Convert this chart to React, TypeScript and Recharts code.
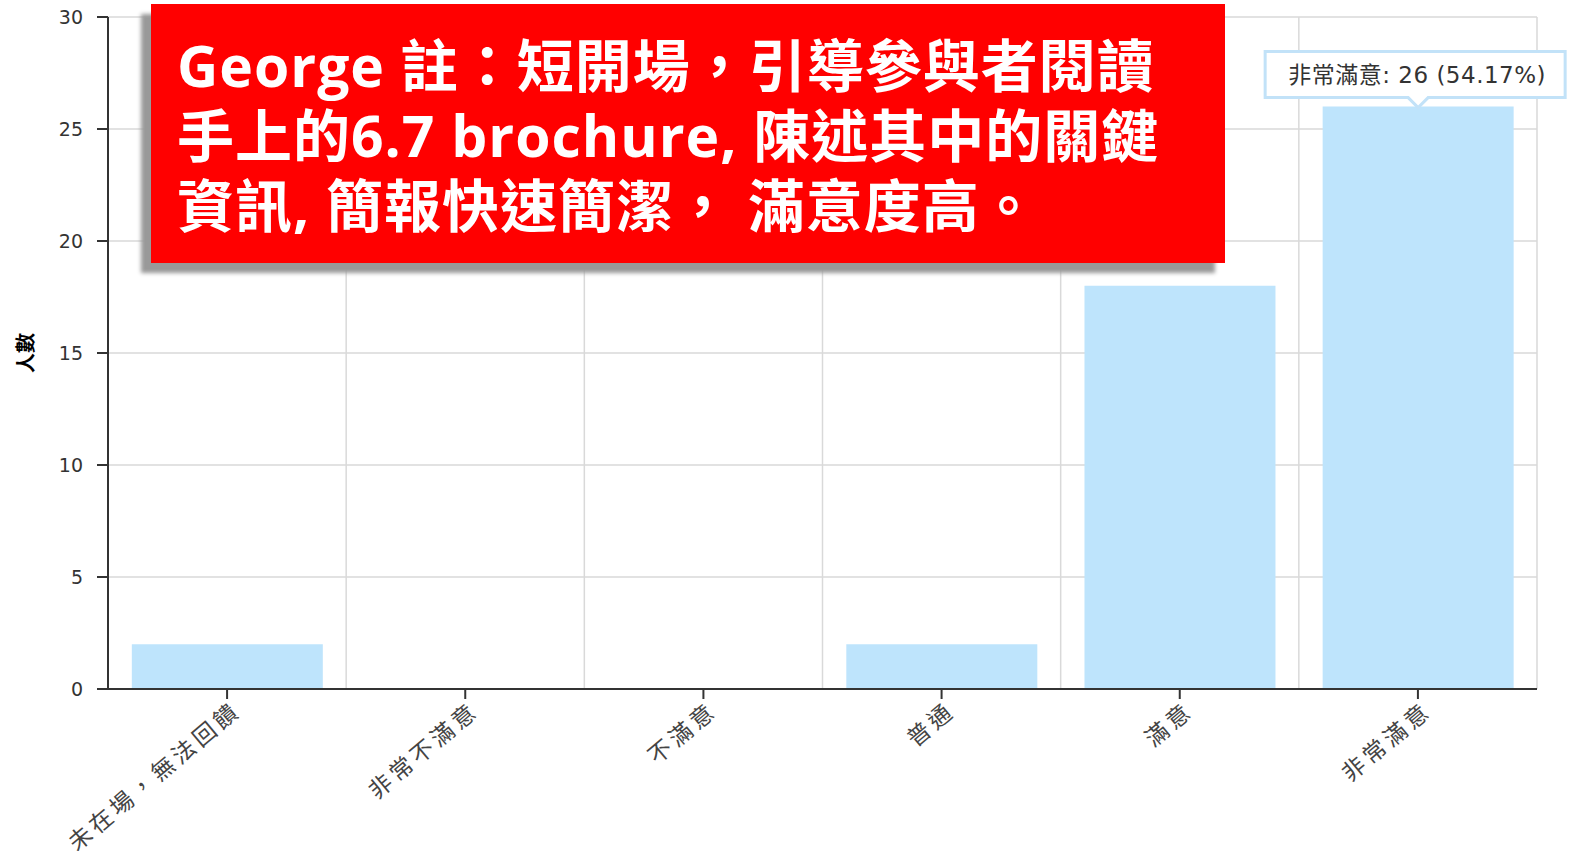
import { BarChart, Bar, XAxis, YAxis, CartesianGrid, Rectangle } from 'recharts';

// survey answers, left to right
const CATEGORIES = ['未在場，無法回饋', '非常不滿意', '不滿意', '普通', '滿意', '非常滿意'];
const COUNTS = [2, 0, 0, 2, 18, 26];
const Y_TICKS = [0, 5, 10, 15, 20, 25, 30];
const CALLOUT_INDEX = 5;

const NOTE_LINES = [
  'George 註：短開場，引導參與者閱讀',
  '手上的6.7 brochure, 陳述其中的關鍵',
  '資訊, 簡報快速簡潔， 滿意度高。',
];

const data = CATEGORIES.map((name, i) => ({ name, value: COUNTS[i] }));
const total = COUNTS.reduce((a, b) => a + b, 0);

const AXIS_FONT = '"DejaVu Sans", "Noto Sans CJK TC", sans-serif';

// rotated category label
function XTick({ x, y, payload }: any) {
  return (
    <g transform={`translate(${x + 10},${y + 6})`}>
      <text
        transform="rotate(-40)"
        textAnchor="end"
        dy="0.35em"
        fill="#444"
        fontSize={23}
        letterSpacing={4}
        fontFamily={AXIS_FONT}
      >
        {payload.value}
      </text>
    </g>
  );
}

// popup-style callout over the highlighted bar
function Callout({ x, width, y, index, value }: any) {
  const cx = x + width / 2;
  const tip = y + 1;
  const bottom = tip - 10;
  const top = bottom - 46;
  const left = cx - 153;
  const right = cx + 147;
  const pct = ((value / total) * 100).toFixed(2);
  return (
    <g>
      <path
        d={`M${left},${top} H${right} V${bottom} H${cx + 10} L${cx},${tip} L${cx - 10},${bottom} H${left} Z`}
        fill="#fff"
        stroke="#c2e2f8"
        strokeWidth={3}
      />
      <text
        x={cx - 1}
        y={(top + bottom) / 2}
        dy="0.35em"
        textAnchor="middle"
        fontSize={23}
        letterSpacing={0.5}
        fill="#333"
        fontFamily={AXIS_FONT}
      >
        {`${CATEGORIES[index]}: ${value} (${pct}%)`}
      </text>
    </g>
  );
}

function BarShape(props: any) {
  const { x, y, width, height, index, fill } = props;
  return (
    <g>
      <Rectangle x={x} y={y} width={width} height={height} fill={fill} />
      {index === CALLOUT_INDEX && (
        <Callout x={x} y={y} width={width} index={index} value={COUNTS[index]} />
      )}
    </g>
  );
}

function YLabel({ viewBox }: any) {
  const cx = viewBox.x + 26;
  const cy = viewBox.y + viewBox.height / 2;
  return (
    <text
      x={cx}
      y={cy}
      transform={`rotate(-90, ${cx}, ${cy})`}
      textAnchor="middle"
      dy="0.35em"
      fontSize={20}
      fontWeight="bold"
      fill="#000"
      fontFamily={AXIS_FONT}
    >
      人數
    </text>
  );
}

export default function App() {
  return (
    <div style={{ position: 'absolute', left: 0, top: 0, width: 1569, height: 854, background: '#fff' }}>
      <BarChart
        width={1569}
        height={854}
        data={data}
        margin={{ top: 17, right: 32, left: 0, bottom: 0 }}
        barCategoryGap="10%"
        style={{ overflow: 'visible' }}
      >
        <CartesianGrid
          stroke="#d9d9d9"
          strokeWidth={1.5}
          verticalCoordinatesGenerator={({ offset }: any) =>
            CATEGORIES.map((_, i) => offset.left + ((i + 1) * offset.width) / CATEGORIES.length)
          }
        />
        <XAxis
          dataKey="name"
          interval={0}
          height={165}
          tickSize={10}
          tickMargin={2}
          tick={<XTick />}
          axisLine={{ stroke: '#333', strokeWidth: 2 }}
          tickLine={{ stroke: '#333', strokeWidth: 2 }}
        />
        <YAxis
          width={108}
          domain={[0, 30]}
          ticks={Y_TICKS}
          tickSize={11}
          tickMargin={14}
          tick={{ fill: '#333', fontSize: 19, fontFamily: AXIS_FONT }}
          axisLine={{ stroke: '#333', strokeWidth: 2 }}
          tickLine={{ stroke: '#333', strokeWidth: 2 }}
          label={<YLabel />}
        />
        <Bar dataKey="value" fill="#bee4fc" isAnimationActive={false} shape={<BarShape />} />
      </BarChart>
      <div
        style={{
          position: 'absolute',
          left: 151,
          top: 4,
          width: 1074,
          height: 259,
          boxSizing: 'border-box',
          padding: '26px 0 0 26px',
          background: '#ff0000',
          boxShadow: '-10px 10px 4px #999',
          color: '#fff',
          fontFamily: '"Open Sans", "Noto Sans CJK TC", sans-serif',
          fontWeight: 'bold',
          fontSize: 57,
          letterSpacing: 1,
          lineHeight: '70px',
          whiteSpace: 'pre',
        }}
      >
        {NOTE_LINES.map((line, i) => (
          <div key={i}>{line}</div>
        ))}
      </div>
    </div>
  );
}
